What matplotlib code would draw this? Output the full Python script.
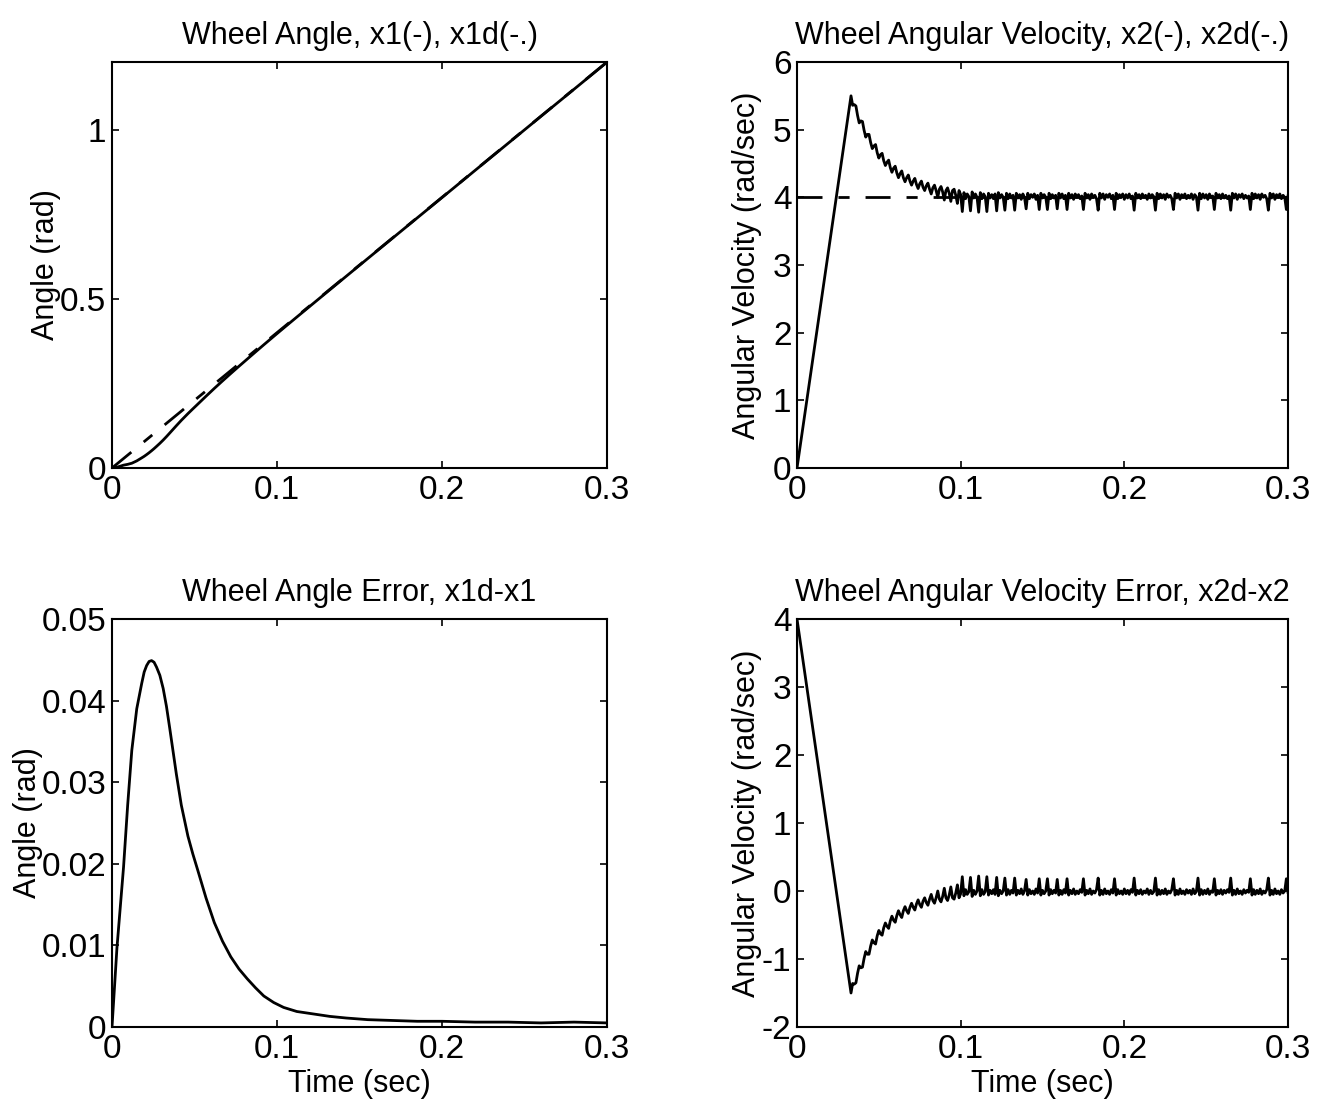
import numpy as np
import matplotlib
matplotlib.use("Agg")
import matplotlib.pyplot as plt
from matplotlib.ticker import FuncFormatter

plt.rcParams['font.family'] = ['Liberation Sans', 'DejaVu Sans']

# ---------------- data ----------------
# desired wheel angular velocity (rad/sec) and desired angle ramp end points
x2d_value = 4.0
x1d_time = [0.0, 0.3]
x1d_angle = [0.0, 1.2]

# wheel angle tracking error x1d - x1 (rad)
err_time = [0.0, 0.003, 0.007, 0.0095, 0.012, 0.015, 0.018, 0.0195, 0.021, 0.0225,
            0.024, 0.0255, 0.027, 0.029, 0.031, 0.033, 0.035, 0.037, 0.039, 0.042,
            0.046, 0.049, 0.052, 0.057, 0.062, 0.067, 0.072, 0.077, 0.082, 0.087,
            0.092, 0.098, 0.104, 0.112, 0.122, 0.132, 0.142, 0.155, 0.170, 0.185,
            0.200, 0.220, 0.240, 0.260, 0.280, 0.300]
angle_err = [0.0, 0.0097, 0.0196, 0.0272, 0.0339, 0.0390, 0.0421, 0.0435, 0.0443, 0.0448,
             0.0449, 0.0447, 0.0441, 0.0431, 0.0415, 0.0393, 0.0366, 0.0338, 0.0310, 0.0272,
             0.0234, 0.0212, 0.0192, 0.0158, 0.0128, 0.0105, 0.0086, 0.0071, 0.0059, 0.0048,
             0.0038, 0.0030, 0.0024, 0.0019, 0.0016, 0.0013, 0.0011, 0.0009, 0.0008, 0.0007,
             0.0007, 0.0006, 0.0006, 0.0005, 0.0006, 0.0005]

# wheel angular velocity x2 (rad/sec): start value, then samples every 1 ms from t = 0.033 s
vel_start_time = 0.0
vel_start = 0.0
vel_tail_t0 = 0.033
vel_tail_dt = 0.001
vel_tail = [
    5.50,
    5.36, 5.37, 5.35, 5.21, 5.10, 5.13, 5.12, 4.99, 4.89, 4.93,
    4.93, 4.81, 4.72, 4.76, 4.78, 4.66, 4.58, 4.63, 4.65, 4.54,
    4.47, 4.52, 4.55, 4.44, 4.37, 4.43, 4.46, 4.36, 4.29, 4.35,
    4.39, 4.29, 4.23, 4.29, 4.33, 4.24, 4.18, 4.24, 4.28, 4.19,
    4.13, 4.20, 4.24, 4.15, 4.10, 4.17, 4.21, 4.12, 4.05, 4.14,
    4.18, 4.10, 4.00, 4.12, 4.16, 4.08, 3.96, 4.10, 4.14, 4.06,
    3.94, 4.10, 4.12, 4.03, 3.91, 4.10,
    4.04, 3.79, 4.07, 3.98, 4.05, 4.01, 3.80, 4.08, 3.99, 4.05,
    4.00, 3.78, 4.07, 3.98, 4.05, 4.01, 3.79, 4.06, 3.99, 4.04,
    3.98, 4.05, 3.80, 4.07, 3.99, 4.04, 4.00, 3.81, 4.06, 3.98,
    4.05, 3.99, 4.03, 3.81, 4.06, 3.99, 4.04, 3.97, 4.05, 4.00,
    3.83, 4.06, 3.98, 4.04, 4.00, 4.05, 3.97, 4.03, 3.82, 4.06,
    3.99, 4.04, 4.00, 3.82, 4.06, 3.98, 4.04, 3.99, 4.03, 3.83,
    4.06, 3.99, 4.05, 3.98, 4.03, 3.82, 4.06, 3.99, 4.04, 3.97,
    4.05, 4.00, 4.04, 3.98, 4.02, 3.82, 4.06, 3.99, 4.04, 3.97,
    4.05, 4.00, 4.03, 3.98, 3.81, 4.06, 3.99, 4.05, 3.97, 4.04,
    4.00, 4.05, 3.98, 4.03, 3.82, 4.06, 3.98, 4.04, 4.00, 4.05,
    3.97, 4.04, 3.99, 4.05, 3.98, 4.02, 3.81, 4.06, 3.99, 4.04,
    3.98, 4.05, 4.00, 4.03, 3.97, 4.05, 3.99, 4.04, 4.01, 3.81,
    4.06, 3.98, 4.05, 3.99, 4.04, 3.97, 4.05, 4.00, 4.03, 3.98,
    3.82, 4.06, 3.99, 4.05, 3.97, 4.04, 4.00, 4.05, 3.98, 4.03,
    3.99, 4.05, 3.97, 4.04, 4.01, 3.81, 4.06, 3.98, 4.05, 3.99,
    4.04, 3.97, 4.05, 4.00, 4.02, 3.82, 4.06, 3.99, 4.04, 3.98,
    4.05, 3.99, 4.03, 3.98, 4.02, 3.81, 4.06, 3.99, 4.05, 3.97,
    4.04, 4.00, 4.05, 3.98, 4.03, 3.99, 4.02, 3.82, 4.06, 3.98,
    4.05, 3.99, 4.04, 3.97, 4.05, 4.00, 4.03, 3.98, 3.81, 4.06,
    3.99, 4.05, 3.97, 4.04, 4.00, 4.05, 3.98, 4.03, 4.00, 3.82,
    4.02,
]

time_ticks = [0, 0.1, 0.2, 0.3]
angle_ticks = [0, 0.5, 1]
vel_ticks = [0, 1, 2, 3, 4, 5, 6]
angle_err_ticks = [0, 0.01, 0.02, 0.03, 0.04, 0.05]
vel_err_ticks = [-2, -1, 0, 1, 2, 3, 4]

# ---------------- derived series ----------------
t_err = np.array(err_time)
x1d_at_err = np.interp(t_err, x1d_time, x1d_angle)
x1 = x1d_at_err - np.array(angle_err)

t_vel = np.concatenate([[vel_start_time],
                        vel_tail_t0 + vel_tail_dt * np.arange(len(vel_tail))])
x2 = np.concatenate([[vel_start], vel_tail])
x2_err = x2d_value - x2

# ---------------- figure ----------------
fig = plt.figure(figsize=(13.34, 11.02), dpi=100)
W, H = 1334.0, 1102.0

def box(left, right, top, bottom):
    return [left / W, 1 - bottom / H, (right - left) / W, (bottom - top) / H]

ax_tl = fig.add_axes(box(112, 607, 62, 468))
ax_tr = fig.add_axes(box(797, 1288, 62, 468))
ax_bl = fig.add_axes(box(112, 607, 619, 1027))
ax_br = fig.add_axes(box(797, 1288, 619, 1027))

LW = 2.0
dashdot = (0, (9, 5.75, 4, 5.75))
fmt = FuncFormatter(lambda v, pos: '%g' % round(v, 6))

def style(ax, yticks, ylim, title, ylabel, ylabel_x, xlabel=None):
    ax.set_xlim(0, 0.3)
    ax.set_ylim(*ylim)
    ax.set_xticks(time_ticks)
    ax.set_yticks(yticks)
    ax.xaxis.set_major_formatter(fmt)
    ax.yaxis.set_major_formatter(fmt)
    ax.tick_params(direction='in', top=True, right=True, length=5, width=1.2,
                   labelsize=24, colors='black')
    ax.tick_params(axis='x', pad=5)
    ax.tick_params(axis='y', pad=4)
    for s in ax.spines.values():
        s.set_linewidth(1.5)
    ax.set_title(title, fontsize=22, pad=13)
    ax.set_ylabel(ylabel, fontsize=22)
    ax.yaxis.set_label_coords(ylabel_x, 0.5)
    if xlabel:
        ax.set_xlabel(xlabel, fontsize=22, labelpad=3)

# Wheel angle with desired ramp
ax_tl.plot(x1d_time, x1d_angle, color='black', lw=LW, linestyle=dashdot)
ax_tl.plot(t_err, x1, color='black', lw=LW)
style(ax_tl, angle_ticks, (0, 1.2), 'Wheel Angle, x1(-), x1d(-.)',
      'Angle (rad)', -0.104)

# Wheel angular velocity with desired value
ax_tr.plot([0, 0.3], [x2d_value, x2d_value], color='black', lw=LW, linestyle=dashdot)
ax_tr.plot(t_vel, x2, color='black', lw=LW)
style(ax_tr, vel_ticks, (0, 6), 'Wheel Angular Velocity, x2(-), x2d(-.)',
      'Angular Velocity (rad/sec)', -0.071)

# Angle error
ax_bl.plot(t_err, angle_err, color='black', lw=LW)
style(ax_bl, angle_err_ticks, (0, 0.05), 'Wheel Angle Error, x1d-x1',
      'Angle (rad)', -0.139, xlabel='Time (sec)')

# Angular velocity error
ax_br.plot(t_vel, x2_err, color='black', lw=LW)
style(ax_br, vel_err_ticks, (-2, 4), 'Wheel Angular Velocity Error, x2d-x2',
      'Angular Velocity (rad/sec)', -0.071, xlabel='Time (sec)')

fig.savefig('out.png', dpi=100, facecolor='white')
